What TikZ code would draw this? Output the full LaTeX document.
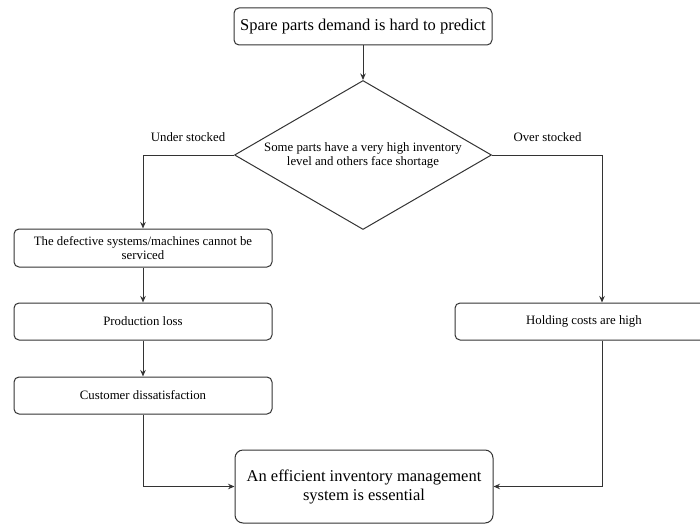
\documentclass[tikz,border=0pt]{standalone}
\usepackage{fontspec}
\setmainfont{Liberation Serif}
\usetikzlibrary{arrows.meta,shapes.geometric}
\begin{document}
\begin{tikzpicture}[x=1pt,y=-1pt,
  line/.style={draw=black!80, line width=1pt},
  box/.style={line, rounded corners=5pt, inner sep=0pt, align=center,
    font=\fontsize{12.8}{14}\selectfont, minimum width=258pt, minimum height=37pt},
  bigbox/.style={box, font=\fontsize{16.5}{19}\selectfont},
  conn/.style={line, -{Stealth[length=6.5pt,width=5.5pt]}},
  lbl/.style={font=\fontsize{12.8}{14}\selectfont, inner sep=0pt}]
\clip (0,0) rectangle (700,524);
\node[bigbox] (top) at (363,26.5) {Spare parts demand is hard to predict};
\node[line, diamond, minimum width=257pt, minimum height=149pt, inner sep=0pt,
  label={[font=\fontsize{12.8}{14}\selectfont, align=center, inner sep=0pt]center:Some parts have a very high inventory\\level and others face shortage}] (dia) at (363,155) {};
\node[box, minimum height=38pt] (b1) at (143,248) {The defective systems/machines cannot be\\serviced};
\node[box] (b2) at (143,321.5) {Production loss};
\node[box] (b3) at (143,395.5) {Customer dissatisfaction};
\node[box] (hold) at (584,321.5) {Holding costs are high};
\node[bigbox, minimum height=73pt, rounded corners=8pt] (fin) at (364,486.5) {An efficient inventory management\\system is essential};
\node[lbl] (under) at (188,137) {Under stocked};
\node[lbl] (over) at (547.5,137) {Over stocked};
\coordinate (rc) at (602,155);
\draw[conn] (top) -- (dia.north);
\draw[conn] (dia.west) -| (b1.north);
\draw[conn] (dia.east) -- (rc) -- (rc |- hold.north);
\draw[conn] (b1) -- (b2);
\draw[conn] (b2) -- (b3);
\draw[conn] (b3.south) |- (fin.west);
\draw[conn] (rc |- hold.south) |- (fin.east);
\end{tikzpicture}
\end{document}
